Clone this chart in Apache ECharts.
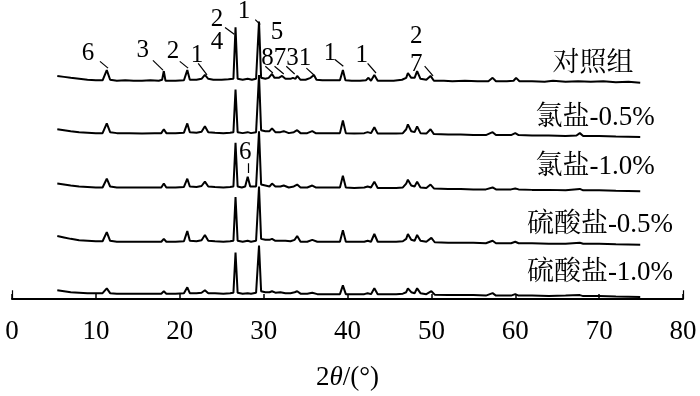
<!DOCTYPE html>
<html>
<head>
<meta charset="utf-8">
<script src="https://cdn.jsdelivr.net/npm/echarts@6/dist/echarts.min.js"></script>
<style>html,body{margin:0;padding:0;background:#fff}#c{width:700px;height:396px}</style>
</head>
<body>
<div id="c"></div>
<script>
// ---- data (2θ in degrees, intensity in arbitrary units above each trace's end baseline) ----
const seriesNames = ['对照组', '氯盐-0.5%', '氯盐-1.0%', '硫酸盐-0.5%', '硫酸盐-1.0%'];
const offsets = [223, 167, 111, 56, 2];
const xTicks = [0, 10, 20, 30, 40, 50, 60, 70, 80];

const trace1 = [[5.4,7],[6.2,6],[7,5],[8,4],[9,3],[10,2.5],[10.8,2.5],[11.3,13],[11.7,3],[12.5,2],[13.5,2.5],[14.5,2],[15.5,2],[16.5,2.5],[17.5,2],[17.9,3],[18.1,12],[18.3,2],[19.5,2],[20.5,2.5],[20.9,13],[21.2,3],[22,3],[22.6,4],[23.0,8],[23.4,4],[24,3],[25,3],[25.8,3.5],[26.4,4],[26.65,57],[26.9,4],[27.5,3],[28.1,4],[28.6,3],[29.1,4],[29.45,63],[29.7,5],[30.2,4],[30.6,5],[31.0,9],[31.3,5],[31.8,5],[32.2,7],[32.6,4],[33.2,4],[33.5,5],[33.8,4],[34.0,7],[34.4,3],[35.0,3],[35.6,5],[36.0,8],[36.3,3],[37,2.5],[38,2.5],[39.1,2.5],[39.45,13],[39.75,2.5],[40.5,2],[41.5,2],[42.2,2.5],[42.5,5],[42.8,2],[43.2,8],[43.6,2],[44.5,2],[45.5,2],[46.5,3],[47.0,5],[47.2,10],[47.6,5],[48.0,5],[48.3,12],[48.7,4],[49.4,3],[49.9,7],[50.3,2],[51.5,2],[52.5,1.5],[54,2],[55.5,1.5],[56.8,1.5],[57.3,5],[57.7,1.5],[59,1.5],[59.8,2],[60.1,5],[60.5,1.5],[62,1.5],[63.5,1],[64.5,2],[66,1],[67.5,1.5],[69,1],[70.5,1.5],[72,0.5],[73.5,1],[74.9,0]];
const trace2 = [[5.4,8],[6.2,7],[7,6],[8,5],[9,4.5],[10,4],[10.8,4],[11.3,14],[11.7,5],[12.5,4],[14,4],[15.5,3.5],[17,4],[17.8,4],[18.1,8],[18.4,4],[19.5,4],[20.5,4.5],[20.9,14],[21.2,5],[22,4.5],[22.6,5.5],[23.0,11],[23.4,5],[24.2,4.5],[25.2,4],[26.0,4.5],[26.4,5],[26.65,49],[26.9,5],[27.5,4],[28.1,5],[28.5,4],[29.1,5],[29.45,64],[29.7,7],[30.2,6],[30.7,6],[31.0,9],[31.4,5],[32,5],[32.4,6],[33,4],[33.6,5],[34.0,7],[34.4,4],[35.2,4],[35.8,6],[36.2,4],[37,4],[38.5,4],[39.1,4],[39.45,17],[39.8,4],[40.8,3.5],[42,4],[42.4,5],[42.8,4],[43.2,10],[43.6,3.5],[44.5,3.5],[45.8,3.5],[46.6,4],[47.0,8],[47.2,13],[47.6,6],[48.0,5],[48.3,11],[48.7,4],[49.4,3.5],[49.9,8],[50.3,3],[52,2.5],[53.5,2.5],[55,2],[56.5,2],[57.3,5],[57.7,2],[59.5,2],[60.0,4],[60.4,2],[62,1.5],[64,1.5],[66,1],[67.3,1.5],[67.7,4],[68.1,1],[70,1],[72,0.5],[74.9,0]];
const trace3 = [[5.4,8],[6.2,7],[7,6],[8,5],[9,4.5],[10,4],[10.8,4],[11.3,13],[11.7,5],[12.5,4],[14,4],[15.5,4],[17,4],[17.8,4],[18.1,8],[18.4,4],[19.5,4],[20.5,4.5],[20.9,13],[21.2,5],[22,4.5],[22.6,5.5],[23.0,10],[23.4,5],[24.2,4.5],[25.2,4],[26.0,4.5],[26.4,5],[26.65,50],[26.9,5],[27.4,4],[27.8,5],[28.1,15],[28.4,5],[29.1,5],[29.45,62],[29.7,7],[30.2,6],[30.7,5],[31.0,8],[31.4,5],[32,5],[32.4,6],[33,4],[33.6,5],[34.0,7],[34.4,4],[35.2,4],[35.8,6],[36.2,4],[37,4],[38.5,4],[39.1,4],[39.45,16],[39.8,4],[40.8,3.5],[42,4],[42.4,5],[42.8,4],[43.2,10],[43.6,3.5],[44.5,3.5],[45.8,3.5],[46.6,4],[47.0,8],[47.2,12],[47.6,6],[48.0,5],[48.3,10],[48.7,4],[49.4,3.5],[49.9,7],[50.3,3],[52,2.5],[53.5,2.5],[55,2],[56.5,2],[57.3,4],[57.7,2],[59.5,2],[60.0,3],[60.4,2],[62,1.5],[64,1.5],[66,1],[67.7,2.5],[68.1,1],[70,1],[72,0.5],[74.9,0]];
const trace4 = [[5.4,9],[6.2,7.5],[7,6],[8,4.5],[9,4],[10,3.5],[10.8,3.5],[11.3,13],[11.7,4],[12.5,3],[14,3],[15.5,3],[17,3],[17.8,3],[18.1,6],[18.4,3],[19.5,3],[20.5,3.5],[20.9,14],[21.2,4],[22,3.5],[22.6,4.5],[23.0,10],[23.4,4],[24.2,3.5],[25.2,3],[26.0,3.5],[26.4,4],[26.65,49],[26.9,4],[27.5,3],[28.1,4],[28.5,3],[29.1,4],[29.45,60],[29.7,6],[30.2,5],[30.7,5],[31.0,6],[31.4,4],[32,4],[32.2,6],[32.6,4],[33.2,3.5],[33.7,5],[34.0,9],[34.4,3],[35.2,3],[35.8,5],[36.0,7],[36.4,3],[37,3],[38.5,3],[39.1,3],[39.45,15],[39.8,3],[40.8,3],[42,3],[42.4,4],[42.8,3],[43.2,11],[43.6,3],[44.5,3],[45.8,3],[46.6,3.5],[47.0,6],[47.2,11],[47.6,5],[48.0,4],[48.3,10],[48.7,4],[49.4,3],[50.0,7],[50.4,2.5],[52,2],[53.5,2],[55,2],[56.5,1.5],[57.3,4],[57.7,1.5],[59.5,1.5],[60.0,3],[60.4,1.5],[62,1.5],[64,1],[66,1],[67.7,2],[68.1,1],[70,1],[72,0.5],[74.9,0]];
const trace5 = [[5.4,7],[6.2,6],[7,5],[8,4.5],[9,4],[10,4],[10.8,4],[11.3,9],[11.7,4],[12.5,3.5],[14,3.5],[15.5,3.5],[17,3.5],[17.8,3.5],[18.1,6],[18.4,3.5],[19.5,3.5],[20.5,4],[20.9,10],[21.2,4],[22,4],[22.6,4.5],[23.0,7],[23.4,4],[24.2,4],[25.2,3.5],[26.0,4],[26.4,4.5],[26.65,46],[26.9,4.5],[27.5,3.5],[28.1,4],[28.5,3.5],[29.1,4.5],[29.45,53],[29.7,6],[30.2,5],[30.7,5],[31.0,6],[31.4,4.5],[32,5],[32.2,6],[32.6,4],[33.2,4],[33.7,5],[34.0,6],[34.4,3.5],[35.2,3.5],[35.8,4.5],[36.0,5],[36.4,3],[37,3],[38.5,3],[39.1,3],[39.45,12],[39.8,3],[40.8,3],[42,3],[42.4,4],[42.8,3],[43.2,9],[43.6,3],[44.5,3],[45.8,3],[46.6,3.5],[47.0,5],[47.2,9],[47.6,5],[48.0,4],[48.3,9],[48.7,4],[49.4,3],[50.0,6],[50.4,2.5],[52,2],[53.5,2],[55,2],[56.5,1.5],[57.3,4],[57.7,1.5],[59.5,1.5],[60.0,3],[60.4,1.5],[62,1.5],[64,1],[66,1.5],[67.7,2],[68.1,1],[70,1],[72,0.5],[74.9,0]];
const traces = [trace1, trace2, trace3, trace4, trace5];

// peak annotation numbers: [2θ, y (plot units), text]
const peakLabels = [[9.06,253,'6'],[15.6,256,'3'],[19.2,255,'2'],[22.05,251,'1'],[24.44,265,'4'],[24.44,288,'2'],[27.66,296,'1'],[31.6,275,'5'],[32.7,248,'8731'],[37.9,253,'1'],[41.7,251,'1'],[48.2,271,'2'],[48.2,242,'7'],[27.8,151,'6']];
// leader lines: [[x1,y1],[x2,y2]]
const leaders = [[[10.49,245],[11.45,238]],[[16.8,246],[18.0,236]],[[20.0,245],[21.0,238]],[[22.2,243],[23.25,231]],[[25.4,280],[26.5,273]],[[29.0,288],[29.6,283]],[[30.2,240],[31.1,233]],[[31.3,240],[32.4,232]],[[32.7,240],[33.7,232]],[[35.1,238],[36.0,231]],[[38.5,247],[39.5,240]],[[42.4,243],[43.4,233]],[[49.2,240],[50.2,230]],[[28.14,140],[28.14,130]],[[0,0],[0,9]],[[80,0],[80,9]]];
// trace name label positions (pixels)
const nameLabelPos = [[593,64],[595,118],[595,167],[600,225],[600,273]];

const serif = "'Liberation Serif','Times New Roman','Noto Serif CJK SC','Noto Sans CJK SC',serif";
const chart = echarts.init(document.getElementById('c'));
const series = traces.map((t, i) => ({
  type: 'line', name: seriesNames[i], showSymbol: false, symbol: 'none', silent: true,
  data: t.map(p => [p[0], p[1] + offsets[i]]),
  lineStyle: { color: '#000', width: 2 }, z: 3
}));
series.push({
  type: 'scatter', symbolSize: 0, silent: true, itemStyle: { opacity: 1, color: '#000' },
  data: peakLabels.map(p => ({ value: [p[0], p[1]], label: { formatter: p[2] } })),
  label: { show: true, position: 'inside', color: '#000', opacity: 1, fontFamily: serif, fontSize: 25 }
});
series.push({
  type: 'lines', coordinateSystem: 'cartesian2d', silent: true,
  data: leaders.map(l => ({ coords: l })),
  lineStyle: { color: '#000', width: 1.2, opacity: 1 }, z: 4
});
chart.setOption({
  animation: false,
  backgroundColor: '#fff',
  grid: { left: 12, right: 17, top: 8, bottom: 88 },
  xAxis: {
    type: 'value', min: 0, max: 80, interval: 10,
    name: '2{i|θ}/(°)', nameLocation: 'middle', nameGap: 65,
    nameTextStyle: { color: '#000', fontFamily: serif, fontSize: 27,
      rich: { i: { fontStyle: 'italic', fontFamily: serif, fontSize: 27, color: '#000' } } },
    axisLine: { lineStyle: { color: '#000', width: 2 } },
    axisTick: { inside: true, length: 5, lineStyle: { color: '#000', width: 1.5 } },
    axisLabel: { color: '#000', fontFamily: serif, fontSize: 27, margin: 19,
      formatter: v => xTicks.includes(v) ? String(v) : '' },
    splitLine: { show: false }
  },
  yAxis: { type: 'value', min: 0, max: 300, show: false },
  graphic: seriesNames.map((n, i) => ({
    type: 'text', x: nameLabelPos[i][0], y: nameLabelPos[i][1], silent: true,
    style: { text: n, fill: '#000', font: "27px " + serif, textAlign: 'center', textVerticalAlign: 'middle' }
  })),
  series
});
</script>
</body>
</html>
